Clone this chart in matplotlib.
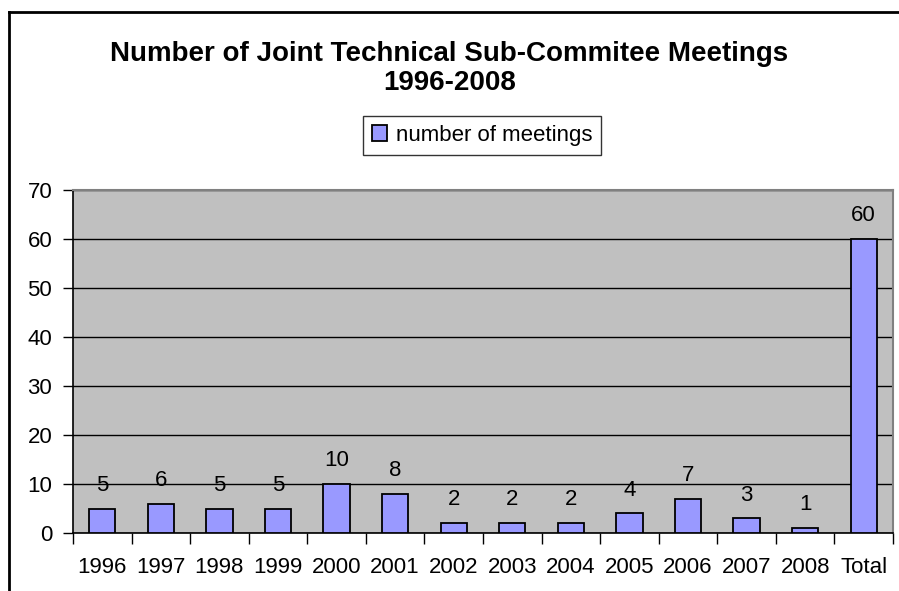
import matplotlib
matplotlib.use("Agg")
import matplotlib.pyplot as plt
from matplotlib.lines import Line2D
import numpy as np

plt.rcParams['font.family'] = ['Liberation Sans', 'DejaVu Sans']

categories = ["1996", "1997", "1998", "1999", "2000", "2001", "2002", "2003",
              "2004", "2005", "2006", "2007", "2008", "Total"]
meetings = [5, 6, 5, 5, 10, 8, 2, 2, 2, 4, 7, 3, 1, 60]
yticks = [0, 10, 20, 30, 40, 50, 60, 70]
title_lines = ["Number of Joint Technical Sub-Commitee Meetings", "1996-2008"]
series_name = "number of meetings"

W, H = 899, 591
FS = 16
fig = plt.figure(figsize=(W / 100, H / 100), dpi=100)
ax = fig.add_axes([73 / W, 1 - 533 / H, (893 - 73) / W, (533 - 190) / H])
ax.set_facecolor("#C0C0C0")

x = np.arange(len(categories))
bars = ax.bar(x, meetings, width=0.45, color="#9999FF", edgecolor="black",
              linewidth=1.3, label=series_name, zorder=3)
for xi, v in zip(x, meetings):
    ax.text(xi, v + 2.6, str(v), ha="center", va="bottom", fontsize=FS, zorder=4)

ax.set_xlim(-0.5, len(categories) - 0.5)
ax.set_ylim(0, 70)
ax.set_yticks(yticks)
ax.set_yticklabels([str(t) for t in yticks], fontsize=FS)
ax.yaxis.grid(True, color="black", linewidth=1.0, zorder=1)
ax.set_axisbelow(True)

ax.set_xticks(np.arange(len(categories) + 1) - 0.5)
ax.set_xticklabels([])
ax.set_xticks(x, minor=True)
ax.set_xticklabels(categories, minor=True, fontsize=FS)
ax.tick_params(axis="x", which="major", length=8, width=1, direction="out", color="black")
ax.tick_params(axis="x", which="minor", length=0, pad=17)
ax.tick_params(axis="y", length=7, width=1, direction="out", pad=8)

for s in ["top", "right"]:
    ax.spines[s].set_color("#808080")
    ax.spines[s].set_linewidth(1.5)
ax.spines["left"].set_color("black")
ax.spines["bottom"].set_color("black")
ax.spines["left"].set_linewidth(1.2)
ax.spines["bottom"].set_linewidth(1.2)

for yy, line in zip([54, 83], title_lines):
    fig.text(0.5, 1 - yy / H, line, ha="center", va="center", fontsize=20,
             fontweight="bold")

leg = ax.legend(loc="center", bbox_to_anchor=(482 / W, 1 - 135.5 / H),
                bbox_transform=fig.transFigure, fontsize=FS, frameon=True,
                fancybox=False, edgecolor="black", handlelength=0.7,
                handleheight=0.7, handletextpad=0.4, borderpad=0.4,
                borderaxespad=0)
leg.get_frame().set_linewidth(1.0)
leg.get_frame().set_facecolor("white")

# outer chart frame
fig.add_artist(Line2D([8.5 / W, 8.5 / W], [0, 1 - 11.5 / H], color="black",
                      linewidth=2, transform=fig.transFigure))
fig.add_artist(Line2D([8.5 / W, 1], [1 - 11.5 / H, 1 - 11.5 / H], color="black",
                      linewidth=2, transform=fig.transFigure))

fig.savefig("out.png", dpi=100)
